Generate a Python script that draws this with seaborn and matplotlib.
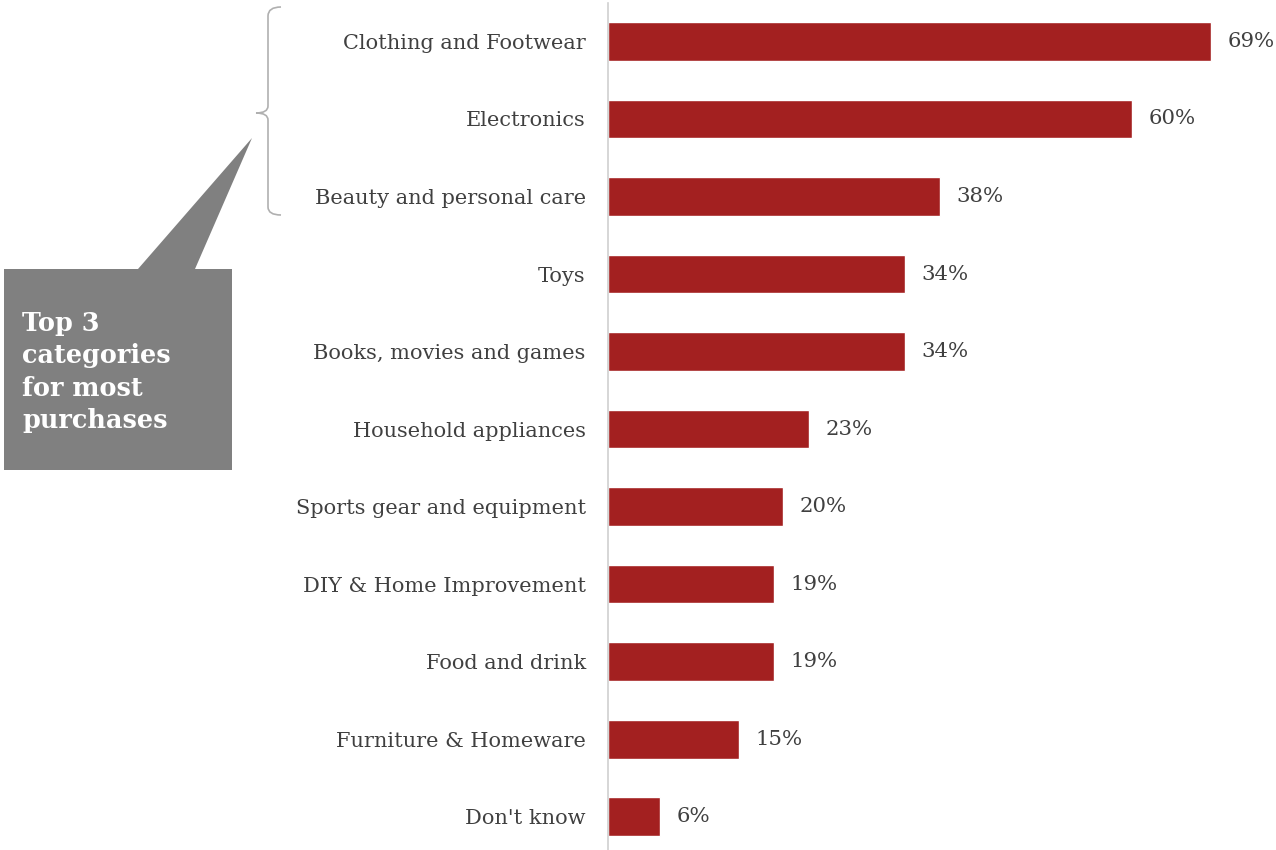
import matplotlib
matplotlib.use("Agg")
import matplotlib.pyplot as plt
import seaborn as sns
import pandas as pd
from matplotlib.patches import Polygon, PathPatch
from matplotlib.path import Path

categories = ["Clothing and Footwear", "Electronics", "Beauty and personal care", "Toys",
              "Books, movies and games", "Household appliances", "Sports gear and equipment",
              "DIY & Home Improvement", "Food and drink", "Furniture & Homeware", "Don't know"]
values = [69, 60, 38, 34, 34, 23, 20, 19, 19, 15, 6]
callout_text = "Top 3\ncategories\nfor most\npurchases"

BAR = "#A32020"
TXT = "#404040"
W, H = 1276, 850

sns.set_theme(style="white")
plt.rcParams["font.family"] = ["DejaVu Serif"]

fig = plt.figure(figsize=(W / 100, H / 100), dpi=100)
ax = fig.add_axes([608 / W, 0, (W - 608) / W, (850 - 2.7) / 850])

df = pd.DataFrame({"category": categories, "value": values})
sns.barplot(data=df, x="value", y="category", orient="h", color=BAR, width=0.5,
            saturation=1, ax=ax)
ax.set_xlim(0, (W - 608) / 8.74)
ax.set_ylim(10.43, -0.5)
ax.set_xlabel("")
ax.set_ylabel("")
ax.set_xticks([])
for s in ["top", "right", "bottom"]:
    ax.spines[s].set_visible(False)
ax.spines["left"].set_color("#d0d0d0")
ax.spines["left"].set_linewidth(1.2)
ax.tick_params(axis="y", length=0, pad=16, labelsize=15, labelcolor=TXT)
for c in ax.containers:
    ax.bar_label(c, labels=[f"{v}%" for v in values], padding=12, fontsize=15.3, color=TXT)


def P(x, y):
    return (x / W, 1 - y / H)


# callout box with pointer
box = Polygon([P(4, 269), P(138, 269), P(252, 138), P(195, 269), P(232, 269),
               P(232, 470), P(4, 470)], closed=True, transform=fig.transFigure,
              facecolor="#808080", edgecolor="none")
fig.add_artist(box)
fig.text(22 / W, 1 - 372 / H, callout_text, transform=fig.transFigure, color="white",
         fontsize=18.4, fontweight="bold", va="center", ha="left", linespacing=1.36)

# bracket
verts = [P(281, 7), P(268, 7), P(268, 16),
         P(268, 106),
         P(268, 113), P(256, 113),
         P(268, 113), P(268, 120),
         P(268, 207),
         P(268, 215), P(281, 215)]
codes = [Path.MOVETO, Path.CURVE3, Path.CURVE3,
         Path.LINETO,
         Path.CURVE3, Path.CURVE3,
         Path.CURVE3, Path.CURVE3,
         Path.LINETO,
         Path.CURVE3, Path.CURVE3]
fig.add_artist(PathPatch(Path(verts, codes), transform=fig.transFigure, facecolor="none",
                         edgecolor="#b0b0b0", linewidth=1.2))

fig.savefig("out.png", dpi=100)
